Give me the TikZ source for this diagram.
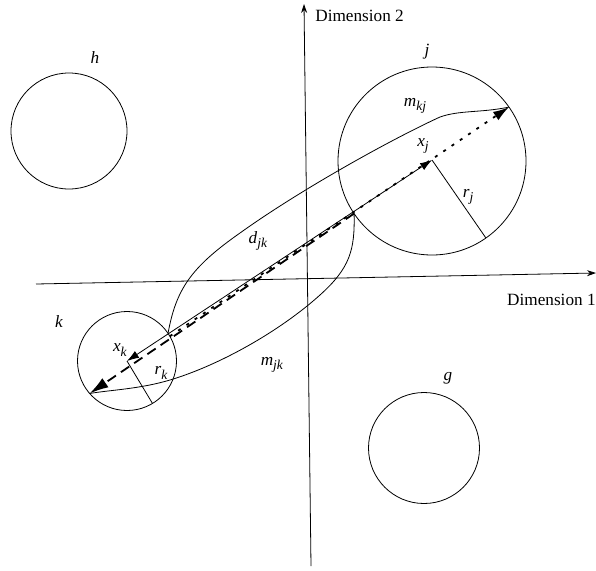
\documentclass[tikz,border=0pt]{standalone}
\usepackage{fontspec}
\setmainfont{Liberation Serif}
\usetikzlibrary{arrows.meta}
\newcommand{\lbl}[2]{\textit{#1}\raisebox{-0.6ex}{\fontsize{13.5}{14}\selectfont\textit{#2}}}
\begin{document}
\begin{tikzpicture}[x=1pt,y=-1pt,line width=0.8pt,
  blob/.style={circle,draw,inner sep=0pt,outer sep=0pt},
  txt/.style={font=\fontsize{17.2}{19}\selectfont,inner sep=0pt},
  axis/.style={-{Stealth[length=9pt,width=6pt]},line width=0.8pt},
  dotline/.style={line width=1.8pt,dash pattern=on 3pt off 7pt},
  dashline/.style={line width=1.8pt,dash pattern=on 10pt off 6pt}]
\useasboundingbox (0,0) rectangle (596,570);
% axes
\coordinate (v0) at (311,566);
\coordinate (v1) at (304,4);
\draw[axis] (v0) -- (v1);
\node[txt,anchor=west] (d2) at (315,16) {Dimension 2};
\coordinate (h0) at (36,284);
\coordinate (h1) at (596,273);
\draw[axis] (h0) -- (h1);
\node[txt,anchor=east] (d1) at (596,300) {Dimension 1};
% circles
\node[blob,minimum size=116pt] (ch) at (69,131) {};
\node[blob,minimum size=188pt] (cj) at (432,161) {};
\node[blob,minimum size=99pt] (ck) at (127,361) {};
\node[blob,minimum size=111pt] (cg) at (424,448) {};
\node[txt] (lh) at (95,58) {\textit{h}};
\node[txt] (lj) at (427,52) {\textit{j}};
\node[txt] (lk) at (59,322) {\textit{k}};
\node[txt] (lg) at (448,378) {\textit{g}};
% points
\coordinate (xj) at (432,160);
\coordinate (xk) at (ck.center);
% radii
\draw (xj) -- (cj.-55);
\draw (xk) -- (ck.-59);
% d_jk
\draw[{Latex[length=12pt,width=8pt]}-{Latex[length=12pt,width=8pt]}] (xk) -- (xj);
% dotted m_kj
\draw[dotline,-{Latex[length=16pt,width=10pt]}] (ck.30) -- (cj.35);
% dashed m_jk
\draw[dashline,-{Latex[length=19pt,width=11pt]}] (cj.214) -- (ck.221);
% curves
\draw (ck.34) .. controls (176,290) and (190,268) .. (240,233)
  .. controls (300,190) and (390,140) .. (440,117)
  .. controls (460,110) and (480,113) .. (cj.35);
\draw (cj.214) .. controls (355,250) and (350,268) .. (320,295)
  .. controls (280,331) and (220,365) .. (170,380)
  .. controls (140,389) and (110,390) .. (ck.221);
% labels
\node[txt] (ldjk) at (258,241) {\lbl{d}{jk}};
\node[txt] (lmkj) at (415,106) {\lbl{m}{kj}};
\node[txt] (lmjk) at (272,365) {\lbl{m}{jk}};
\node[txt] (lxj) at (423,146) {\lbl{x}{j}};
\node[txt] (lxk) at (120,350) {\lbl{x}{k}};
\node[txt] (lrj) at (468,197) {\lbl{r}{j}};
\node[txt] (lrk) at (161,373) {\lbl{r}{k}};
\end{tikzpicture}
\end{document}
